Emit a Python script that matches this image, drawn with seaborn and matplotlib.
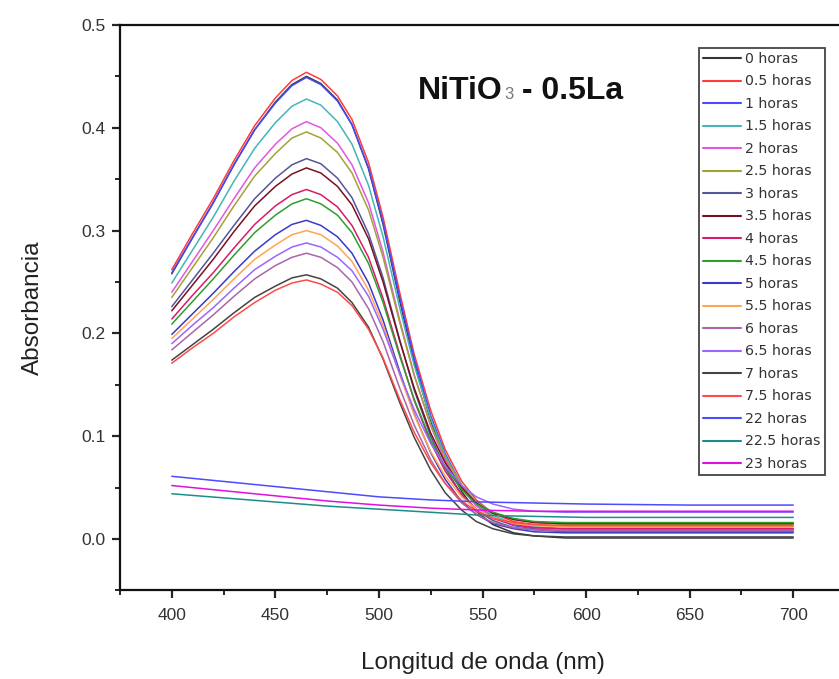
import matplotlib
matplotlib.use("Agg")
import matplotlib.pyplot as plt
import matplotlib.transforms as mtransforms
from matplotlib.ticker import MultipleLocator
import numpy as np
import pandas as pd
import seaborn as sns

# ---------------- data ----------------
wl_peak = [400, 410, 420, 430, 440, 450, 458, 465, 472, 480, 487, 495, 502, 510,
           517, 525, 532, 540, 547, 555, 565, 575, 590, 620, 660, 700]
wl_flat = [400, 425, 450, 475, 500, 525, 550, 575, 600, 650, 700]

abs_0h = [.258, .293, .327, .364, .398, .425, .442, .450, .443, .427, .403, .360, .306, .232, .172, .115, .077, .046, .027, .014, .006, .003, .001, .001, .001, .001]
abs_05h = [.262, .297, .331, .368, .402, .429, .446, .454, .447, .431, .408, .366, .313, .240, .180, .125, .087, .056, .038, .025, .017, .014, .012, .012, .012, .012]
abs_1h = [.259, .293, .327, .364, .398, .424, .441, .449, .442, .426, .403, .361, .308, .235, .176, .120, .083, .052, .034, .021, .013, .010, .008, .008, .008, .008]
abs_15h = [.249, .281, .313, .348, .380, .405, .421, .428, .422, .406, .384, .344, .294, .225, .169, .117, .081, .052, .034, .023, .015, .012, .010, .010, .010, .010]
abs_2h = [.240, .270, .300, .331, .361, .384, .399, .406, .400, .385, .364, .327, .279, .213, .160, .110, .076, .049, .032, .021, .014, .011, .009, .009, .009, .009]
abs_25h = [.235, .264, .293, .324, .353, .375, .390, .396, .390, .376, .356, .320, .274, .211, .159, .111, .079, .052, .036, .026, .019, .016, .014, .014, .014, .014]
abs_3h = [.226, .252, .278, .305, .331, .351, .364, .370, .365, .351, .332, .297, .254, .194, .145, .100, .069, .043, .028, .018, .011, .009, .007, .007, .007, .007]
abs_35h = [.222, .247, .272, .299, .324, .343, .355, .361, .356, .343, .325, .292, .250, .193, .147, .103, .074, .050, .035, .025, .019, .016, .015, .015, .015, .015]
abs_4h = [.214, .237, .259, .283, .306, .324, .335, .340, .335, .323, .305, .274, .234, .180, .135, .094, .066, .043, .029, .020, .014, .011, .010, .010, .010, .010]
abs_45h = [.209, .231, .253, .276, .298, .315, .326, .331, .326, .315, .298, .268, .230, .178, .136, .096, .070, .048, .034, .026, .020, .017, .016, .016, .016, .016]
abs_5h = [.199, .219, .239, .260, .280, .296, .306, .310, .305, .294, .278, .249, .213, .163, .122, .084, .058, .036, .024, .015, .010, .007, .006, .006, .006, .006]
abs_55h = [.195, .214, .233, .253, .272, .286, .296, .300, .296, .285, .270, .242, .208, .160, .121, .085, .061, .041, .029, .021, .015, .013, .012, .012, .012, .012]
abs_6h = [.184, .201, .218, .236, .253, .266, .274, .278, .274, .264, .250, .224, .192, .147, .111, .077, .054, .035, .024, .016, .011, .009, .008, .008, .008, .008]
abs_65h = [.190, .208, .225, .244, .262, .275, .284, .288, .284, .274, .261, .236, .204, .161, .126, .093, .071, .052, .041, .034, .029, .027, .026, .026, .026, .026]
abs_7h = [.174, .189, .204, .220, .235, .246, .254, .257, .253, .244, .230, .206, .175, .133, .099, .067, .045, .028, .017, .010, .005, .003, .002, .002, .002, .002]
abs_75h = [.171, .186, .200, .216, .230, .242, .249, .252, .248, .240, .227, .204, .176, .136, .104, .074, .054, .037, .027, .020, .016, .014, .013, .013, .013, .013]

abs_22h = [.061, .056, .051, .046, .041, .038, .036, .035, .034, .033, .033]
abs_225h = [.044, .040, .036, .032, .029, .026, .023, .022, .021, .021, .021]
abs_23h = [.052, .047, .042, .037, .033, .030, .028, .027, .027, .027, .027]

labels = ["0 horas", "0.5 horas", "1 horas", "1.5 horas", "2 horas", "2.5 horas",
          "3 horas", "3.5 horas", "4 horas", "4.5 horas", "5 horas", "5.5 horas",
          "6 horas", "6.5 horas", "7 horas", "7.5 horas", "22 horas", "22.5 horas",
          "23 horas"]
colors = ["#333333", "#ff3b3b", "#4a4aff", "#45b5b5", "#e455e4", "#a3a335",
          "#55559a", "#7a1020", "#d81b6a", "#2e9e2e", "#3a3ac8", "#ffa552",
          "#a866a8", "#9a66ff", "#444444", "#ff4a4a", "#4b4bff", "#1f8c8c",
          "#e010e0"]

series_y = [abs_0h, abs_05h, abs_1h, abs_15h, abs_2h, abs_25h, abs_3h, abs_35h,
            abs_4h, abs_45h, abs_5h, abs_55h, abs_6h, abs_65h, abs_7h, abs_75h,
            abs_22h, abs_225h, abs_23h]

rows = []
for lab, ys in zip(labels, series_y):
    xs = wl_peak if len(ys) == len(wl_peak) else wl_flat
    for x, y in zip(xs, ys):
        rows.append((lab, x, y))
df = pd.DataFrame(rows, columns=["serie", "wl", "abs"])

# ---------------- figure ----------------
sns.set_style("ticks")
plt.rcParams["font.family"] = ["Liberation Sans", "DejaVu Sans"]

W, H = 839, 679
fig = plt.figure(figsize=(W / 100, H / 100), dpi=100)
ax_l, ax_r = 120, 845
ax_t, ax_b = 25, 590.4
ax = fig.add_axes([ax_l / W, 1 - ax_b / H, (ax_r - ax_l) / W, (ax_b - ax_t) / H])

sns.lineplot(data=df, x="wl", y="abs", hue="serie", hue_order=labels,
             palette=dict(zip(labels, colors)), estimator=None, sort=False,
             linewidth=1.1, ax=ax)

ax.set_xlim(375, 725)
ax.set_ylim(-0.05, 0.5)
ax.xaxis.set_major_locator(MultipleLocator(50))
ax.xaxis.set_minor_locator(MultipleLocator(25))
ax.yaxis.set_major_locator(MultipleLocator(0.1))
ax.yaxis.set_minor_locator(MultipleLocator(0.05))
ax.tick_params(axis="both", which="major", direction="out", length=5.5, width=1.6,
               labelsize=12.5, labelcolor="#333333", pad=5)
ax.tick_params(axis="both", which="minor", direction="out", length=3.5, width=1.4)
ax.tick_params(axis="x", which="major", pad=7)
ax.set_yticks([0.0, 0.1, 0.2, 0.3, 0.4, 0.5])
ax.set_yticklabels(["0.0", "0.1", "0.2", "0.3", "0.4", "0.5"])
for side in ["left", "bottom", "top"]:
    ax.spines[side].set_visible(True)
    ax.spines[side].set_linewidth(1.6)
    ax.spines[side].set_color("#111111")
ax.spines["right"].set_visible(False)

ax.set_xlabel("Longitud de onda (nm)", fontsize=17.5, color="#222222", labelpad=21)
ax.set_ylabel("Absorbancia", fontsize=17.5, color="#222222", labelpad=27)

# legend
handles, labs = ax.get_legend_handles_labels()
for h in handles:
    h.set_linewidth(1.5)
leg = ax.legend(handles, labs, loc="upper left",
                bbox_to_anchor=(699 / W, 1 - 48 / H), bbox_transform=fig.transFigure,
                frameon=True, fancybox=False, framealpha=1, edgecolor="#444444",
                handlelength=2.7, handletextpad=0.3, labelspacing=0.6,
                borderpad=0.28, borderaxespad=0,
                prop={"family": "DejaVu Sans", "size": 10.2})
leg.get_frame().set_linewidth(1.3)
for t in leg.get_texts():
    t.set_color("#333333")

# title "NiTiO3 - 0.5La" with small grey subscript
fig.canvas.draw()
r = fig.canvas.get_renderer()
x0, y0 = ax.transData.transform((519, 0.428))
ident = mtransforms.IdentityTransform()
t1 = ax.text(x0, y0, "NiTiO", transform=ident, fontsize=23, fontweight="bold",
             color="#111111", va="baseline", ha="left")
bb1 = t1.get_window_extent(r)
t2 = ax.text(bb1.x1 + 1, y0, "3", transform=ident, fontsize=12, color="#777777",
             va="baseline", ha="left")
bb2 = t2.get_window_extent(r)
ax.text(bb2.x1, y0, " - 0.5La", transform=ident, fontsize=23, fontweight="bold",
        color="#111111", va="baseline", ha="left")

fig.savefig("out.png", dpi=100, facecolor="white")
